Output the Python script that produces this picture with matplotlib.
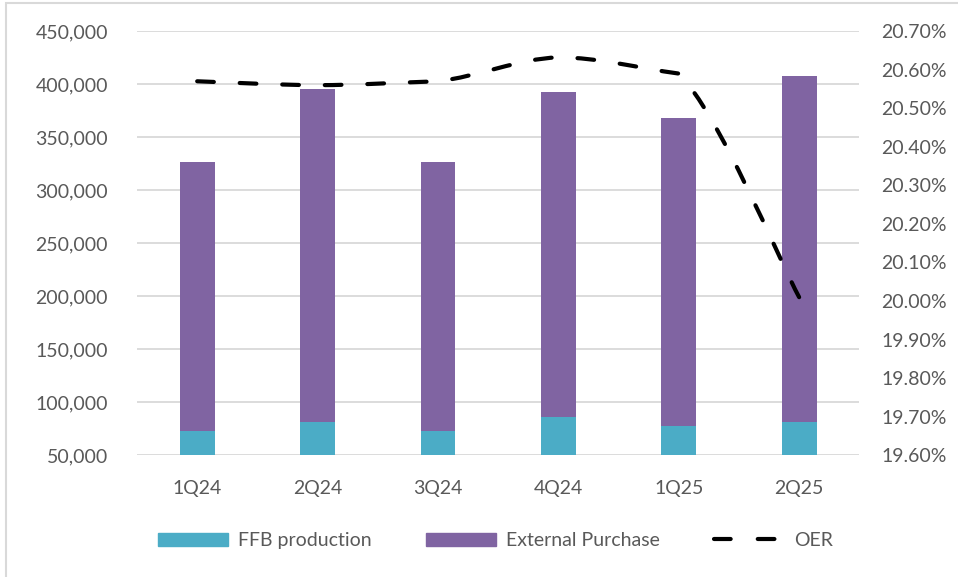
import matplotlib.pyplot as plt
from matplotlib.path import Path
from matplotlib.patches import PathPatch, Rectangle
from matplotlib.lines import Line2D
from matplotlib.ticker import FuncFormatter, MultipleLocator

plt.rcParams['font.family'] = ['Lato', 'DejaVu Sans']

quarters = ['1Q24', '2Q24', '3Q24', '4Q24', '1Q25', '2Q25']
ffb = [72900, 81400, 72900, 86100, 77600, 81400]
external = [253600, 314300, 253600, 306100, 290100, 326200]
oer = [20.57, 20.56, 20.57, 20.632, 20.59, 20.01]

teal = '#4BACC6'
purple = '#8064A2'
grey_txt = '#595959'

fig = plt.figure(figsize=(9.58, 5.77), dpi=100)
ax = fig.add_axes([0.143, 0.211, 0.754, 0.735])
ax2 = ax.twinx()

x = list(range(len(quarters)))
ax.bar(x, ffb, width=0.29, color=teal, zorder=2, label='FFB production')
ax.bar(x, external, width=0.29, bottom=ffb, color=purple, zorder=2,
       label='External Purchase')

ax.set_ylim(50000, 450000)
ax.set_xlim(-0.5, len(quarters) - 0.5)
ax.yaxis.set_major_locator(MultipleLocator(50000))
ax.yaxis.set_major_formatter(FuncFormatter(lambda v, p: f'{v:,.0f}'))
ax.grid(axis='y', color='#D9D9D9', linewidth=1.3, zorder=0)
ax.set_axisbelow(True)
ax.set_xticks(x)
ax.set_xticklabels(quarters)

ax2.set_ylim(19.60, 20.70)
ax2.yaxis.set_major_locator(MultipleLocator(0.1))
ax2.yaxis.set_major_formatter(FuncFormatter(lambda v, p: f'{v:.2f}%'))

# smoothed OER line: bezier segments; a control point that would push the
# curve outside the segment's range falls back to the straight chord
xs = x[::-1]
ys = oer[::-1]
verts = [(xs[0], ys[0])]
codes = [Path.MOVETO]
n = len(xs)
for i in range(n - 1):
    p0 = (xs[max(i - 1, 0)], ys[max(i - 1, 0)])
    p1 = (xs[i], ys[i])
    p2 = (xs[i + 1], ys[i + 1])
    p3 = (xs[min(i + 2, n - 1)], ys[min(i + 2, n - 1)])
    lo, hi = min(p1[1], p2[1]), max(p1[1], p2[1])
    chord1 = (p1[0] + (p2[0] - p1[0]) / 3, p1[1] + (p2[1] - p1[1]) / 3)
    chord2 = (p2[0] - (p2[0] - p1[0]) / 3, p2[1] - (p2[1] - p1[1]) / 3)
    c1 = (p1[0] + (p2[0] - p0[0]) / 6, p1[1] + (p2[1] - p0[1]) / 6)
    c2 = (p2[0] - (p3[0] - p1[0]) / 6, p2[1] - (p3[1] - p1[1]) / 6)
    if not lo - 1e-9 <= c1[1] <= hi + 1e-9:
        c1 = (c1[0], min(max(c1[1], lo), hi)) if p0 == p1 or (p1[1] - p0[1]) * (p2[1] - p1[1]) <= 0 else chord1
    if not lo - 1e-9 <= c2[1] <= hi + 1e-9:
        c2 = (c2[0], min(max(c2[1], lo), hi)) if p3 == p2 or (p3[1] - p2[1]) * (p2[1] - p1[1]) <= 0 else chord2
    verts += [c1, c2, p2]
    codes += [Path.CURVE4] * 3
oer_path = Path(verts, codes)

# fit the dash period so both ends of the line finish on a dash
lw = 3
lw_px = lw * fig.dpi / 72
poly = ax2.transData.transform_path(oer_path).to_polygons(closed_only=False)[0]
length = sum(((poly[k + 1][0] - poly[k][0]) ** 2 + (poly[k + 1][1] - poly[k][1]) ** 2) ** 0.5
             for k in range(len(poly) - 1))
dash = 4.0
period = (length - dash * lw_px) / round((length - dash * lw_px) / (10.5 * lw_px))
gap = period / lw_px - dash

line = PathPatch(oer_path, fill=False, edgecolor='black', linewidth=lw,
                 linestyle=(0, (dash, gap)), capstyle='round', zorder=3)
ax2.add_patch(line)

for a in (ax, ax2):
    for s in a.spines.values():
        s.set_visible(False)
    a.tick_params(length=0, labelsize=14, labelcolor=grey_txt)
ax.tick_params(axis='y', pad=21)
ax.tick_params(axis='x', pad=18)
ax2.tick_params(axis='y', pad=16)

handles = [Rectangle((0, 0), 1, 1, color=teal),
           Rectangle((0, 0), 1, 1, color=purple),
           Line2D([0], [0], color='black', linewidth=lw, linestyle=(0, (4, 6.5)),
                  dash_capstyle='round')]
fig.legend(handles, ['FFB production', 'External Purchase', 'OER'],
           loc='center', bbox_to_anchor=(0.517, 0.063), ncol=3, frameon=False,
           fontsize=14, labelcolor=grey_txt, handlelength=3.6, handleheight=0.7,
           columnspacing=2.8, handletextpad=0.5)

fig.patches.append(Rectangle((6 / 958, -0.01), 1.0, 1 - 3 / 577 + 0.01,
                             transform=fig.transFigure, fill=False,
                             edgecolor='#D9D9D9', linewidth=1.5))

fig.savefig('out.png', dpi=100)
